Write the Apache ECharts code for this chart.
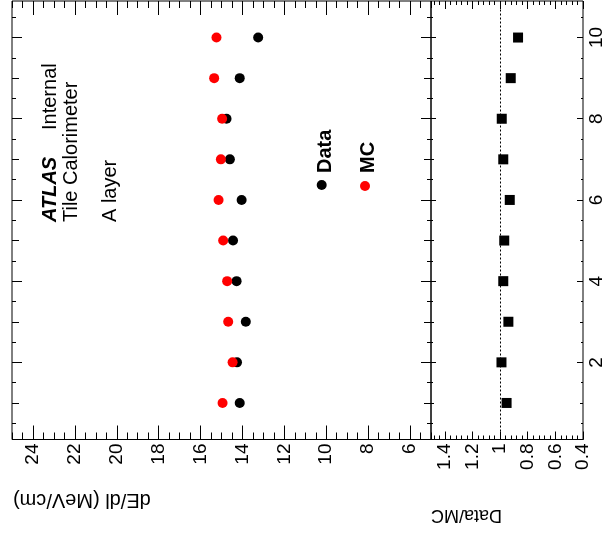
<!DOCTYPE html>
<html>
<head>
<meta charset="utf-8">
<script src="https://cdn.jsdelivr.net/npm/echarts@6/dist/echarts.min.js"></script>
<style>
  html, body { margin: 0; padding: 0; background: #fff; }
  #chart { width: 606px; height: 541px; }
</style>
</head>
<body>
<div id="chart"></div>
<script>
// Energy loss per unit length in the Tile Calorimeter A layer, per bin,
// drawn turned on its side: the bin axis runs upward, dE/dl runs right-to-left.
const bins        = [1, 2, 3, 4, 5, 6, 7, 8, 9, 10];
const dataDEdl    = [14.13, 14.26, 13.84, 14.28, 14.45, 14.04, 14.60, 14.76, 14.13, 13.25];
const mcDEdl      = [14.95, 14.47, 14.68, 14.73, 14.92, 15.14, 15.03, 14.97, 15.35, 15.24];
const ratioDataMC = [0.953, 0.990, 0.940, 0.977, 0.970, 0.930, 0.977, 0.988, 0.923, 0.870];

// Tick labels
const dedlLabels  = [6, 8, 10, 12, 14, 16, 18, 20, 22, 24];
const ratioLabels = [0.4, 0.6, 0.8, 1, 1.2, 1.4];
const binLabels   = [2, 4, 6, 8, 10];

const FONT = 'Liberation Sans';
const INK = '#000';

function range(from, to, step) {
  const out = [];
  for (let v = from; v <= to + 1e-9; v += step) out.push(Math.round(v * 1000) / 1000);
  return out;
}

// Tick positions for each level
const dedlMajor  = dedlLabels;
const dedlMinor  = range(5, 25, 0.5);
const ratioMajor = ratioLabels;
const ratioMinor = range(0.4, 1.5, 0.04);
const binMajor   = binLabels;
const binMedium  = [1, 3, 5, 7, 9];
const binMinor   = range(0.5, 10.5, 1);

const mainRange  = { min: 5, max: 25, inverse: true };
const ratioRange = { min: 0.4, max: 1.5, inverse: true };
const binRange   = { min: 0.1, max: 10.9 };

function tickAxis(grid, rangeCfg, position, values, length, labelCfg) {
  return Object.assign({
    type: 'value',
    gridIndex: grid,
    position: position,
    axisLine: { show: false },
    splitLine: { show: false },
    axisTick: {
      show: true, inside: true, length: length,
      customValues: values,
      lineStyle: { color: INK, width: 1 }
    },
    axisLabel: labelCfg ? Object.assign({
      show: true, customValues: labelCfg.values, rotate: 90,
      fontFamily: FONT, fontSize: 19, color: INK, margin: labelCfg.margin
    }, labelCfg.extra || {}) : { show: false }
  }, rangeCfg);
}

const xAxes = [
  // dE/dl axis, main frame
  tickAxis(0, mainRange, 'bottom', dedlMajor, 14, { values: dedlLabels, margin: 4 }),
  tickAxis(0, mainRange, 'bottom', dedlMinor, 7),
  tickAxis(0, mainRange, 'top', dedlMajor, 14),
  tickAxis(0, mainRange, 'top', dedlMinor, 7),
  // Data/MC axis, ratio frame
  tickAxis(1, ratioRange, 'bottom', ratioMajor, 8, { values: ratioLabels, margin: 4 }),
  tickAxis(1, ratioRange, 'bottom', ratioMinor, 4),
  tickAxis(1, ratioRange, 'top', ratioMajor, 8),
  tickAxis(1, ratioRange, 'top', ratioMinor, 4)
];

const yAxes = [
  // bin axis, main frame
  tickAxis(0, binRange, 'left', binMajor, 10),
  tickAxis(0, binRange, 'left', binMedium, 7),
  tickAxis(0, binRange, 'left', binMinor, 4),
  tickAxis(0, binRange, 'right', binMajor, 10),
  tickAxis(0, binRange, 'right', binMedium, 7),
  tickAxis(0, binRange, 'right', binMinor, 4),
  // bin axis, ratio frame
  tickAxis(1, binRange, 'left', binMajor, 5),
  tickAxis(1, binRange, 'left', binMedium, 3),
  tickAxis(1, binRange, 'left', binMinor, 2),
  tickAxis(1, binRange, 'right', binMajor, 6, { values: binLabels, margin: 4 }),
  tickAxis(1, binRange, 'right', binMedium, 3),
  tickAxis(1, binRange, 'right', binMinor, 2)
];

function textEl(text, x, y, rotation, style) {
  return {
    type: 'text', x: x, y: y, rotation: rotation, silent: true,
    style: Object.assign({
      text: text, fill: INK, fontFamily: FONT, fontSize: 20,
      align: 'left', verticalAlign: 'middle'
    }, style || {})
  };
}

const UP = Math.PI / 2;

const option = {
  animation: false,
  backgroundColor: '#fff',
  grid: [
    { left: 12, top: 1, width: 419, height: 438.5, show: true, borderColor: INK, borderWidth: 1, backgroundColor: 'transparent' },
    { left: 431, top: 1, width: 158.5, height: 438.5, show: true, borderColor: INK, borderWidth: 1, backgroundColor: 'transparent' }
  ],
  xAxis: xAxes,
  yAxis: yAxes,
  series: [
    {
      name: 'Data', type: 'scatter', xAxisIndex: 0, yAxisIndex: 0,
      symbol: 'circle', symbolSize: 10, z: 3,
      itemStyle: { color: '#000', opacity: 1 },
      data: bins.map((b, i) => [dataDEdl[i], b])
    },
    {
      name: 'MC', type: 'scatter', xAxisIndex: 0, yAxisIndex: 0,
      symbol: 'circle', symbolSize: 10, z: 4,
      itemStyle: { color: '#ff0000', opacity: 1 },
      data: bins.map((b, i) => [mcDEdl[i], b])
    },
    {
      name: 'Data/MC', type: 'scatter', xAxisIndex: 4, yAxisIndex: 6,
      symbol: 'rect', symbolSize: 10, z: 3,
      itemStyle: { color: '#000', opacity: 1 },
      data: bins.map((b, i) => [ratioDataMC[i], b]),
      markLine: {
        silent: true, symbol: 'none', animation: false,
        label: { show: false },
        lineStyle: { color: INK, width: 1, type: [2, 2] },
        data: [{ xAxis: 1 }]
      }
    }
  ],
  graphic: [
    textEl('ATLAS', 50, 222, UP, { fontWeight: 'bold', fontStyle: 'italic' }),
    textEl('Internal', 50, 130, UP),
    textEl('Tile Calorimeter', 71, 222, UP),
    textEl('A layer', 110, 222, UP),
    { type: 'circle', shape: { cx: 321.7, cy: 185, r: 5 }, style: { fill: '#000' }, silent: true },
    textEl('Data', 325, 173, UP, { fontWeight: 'bold' }),
    { type: 'circle', shape: { cx: 365, cy: 186, r: 5 }, style: { fill: '#ff0000' }, silent: true },
    textEl('MC', 368, 173, UP, { fontWeight: 'bold' }),
    textEl('dE/dl (MeV/cm)', 13, 500, Math.PI, { align: 'right' }),
    textEl('Data/MC', 431, 515, Math.PI, { align: 'right', fontSize: 18 })
  ]
};

const chart = echarts.init(document.getElementById('chart'), null, { renderer: 'canvas' });
chart.setOption(option);
</script>
</body>
</html>
